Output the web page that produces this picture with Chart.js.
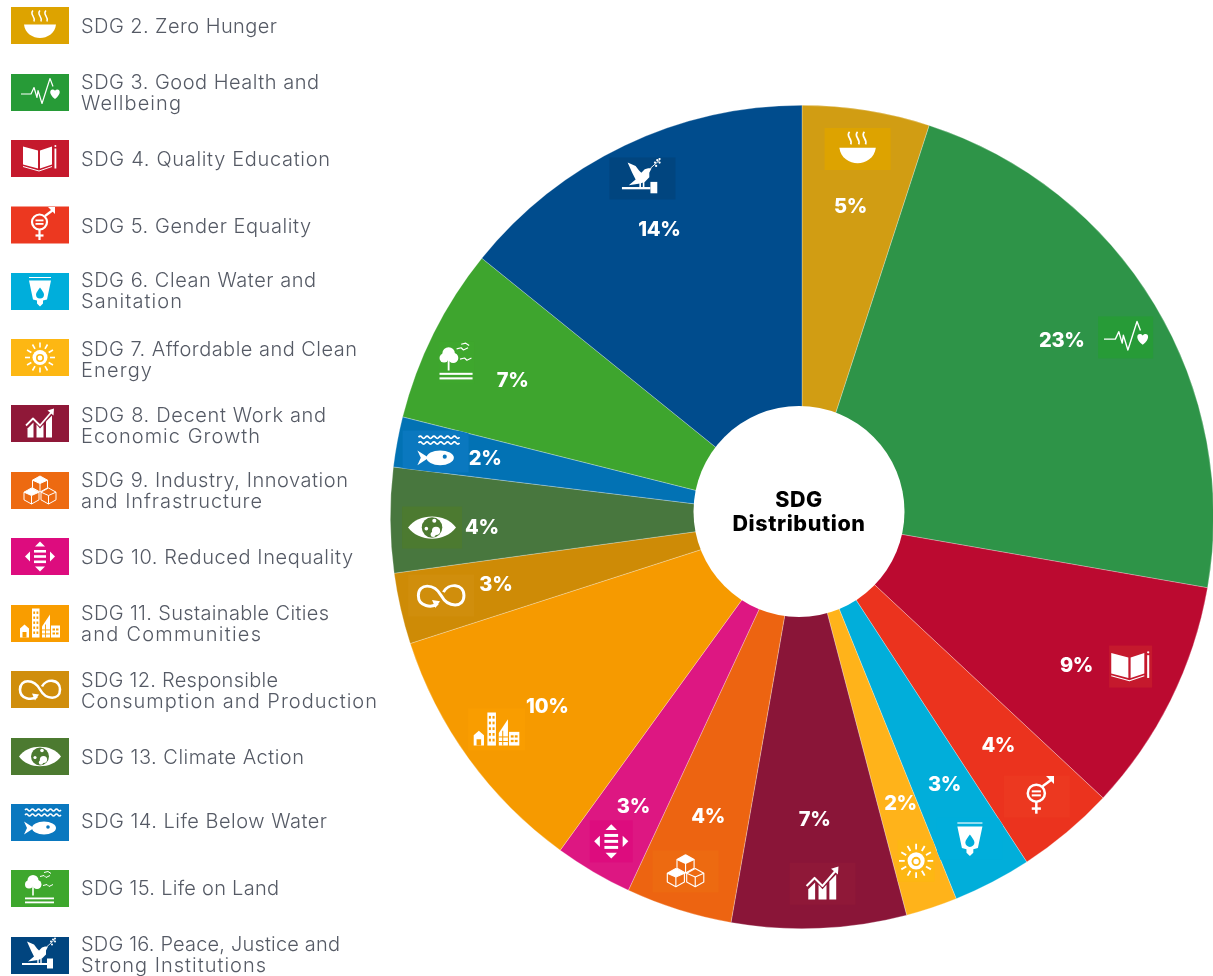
<!DOCTYPE html>
<html>
<head>
<meta charset="utf-8">
<title>SDG Distribution</title>
<script src="https://cdn.jsdelivr.net/npm/chart.js@4"></script>
<style>
  html, body { margin: 0; padding: 0; background: #fff; overflow: hidden; }
  canvas { display: block; }
</style>
</head>
<body>
<canvas id="sdgChart" width="1214" height="976"></canvas>
<script>
// data
const legendLines = [
    ['SDG 2. Zero Hunger'],
    ['SDG 3. Good Health and', 'Wellbeing'],
    ['SDG 4. Quality Education'],
    ['SDG 5. Gender Equality'],
    ['SDG 6. Clean Water and', 'Sanitation'],
    ['SDG 7. Affordable and Clean', 'Energy'],
    ['SDG 8. Decent Work and', 'Economic Growth'],
    ['SDG 9. Industry, Innovation', 'and Infrastructure'],
    ['SDG 10. Reduced Inequality'],
    ['SDG 11. Sustainable Cities', 'and Communities'],
    ['SDG 12. Responsible', 'Consumption and Production'],
    ['SDG 13. Climate Action'],
    ['SDG 14. Life Below Water'],
    ['SDG 15. Life on Land'],
    ['SDG 16. Peace, Justice and', 'Strong Institutions']
];
const shares = [5, 22.75, 9.2, 3.86, 3.08, 2.02, 6.85, 4.17, 3.06, 10.04, 2.79, 4.12, 1.97, 6.91, 14.18];
const sliceColors = ['#D19D13', '#2E9448', '#BB0A30', '#EB331E', '#01AEDA', '#FFB31A', '#8A1538', '#ED6411',
    '#DD1782', '#F69A00', '#CE8B06', '#48773E', '#0272B4', '#3EA52E', '#004C8D'];
const iconColors = ['#DDA300', '#279B37', '#C5192D', '#EC3820', '#00AEDB', '#FDB713', '#8F1838', '#ED6A11',
    '#DD0C7E', '#F99D00', '#D08E0C', '#4C7A30', '#0A78BF', '#3EA72D', '#01457F'];

// where label and icon sit in each slice: radius as part of the pie radius, nudge in degrees off the slice middle
const labelRadius = [.765, .763, .758, .731, .736, .734, .734, .761, .812, .770, .761, .778, .783, .778, .780];
const labelNudge = [-.15, -3.15, 1.94, -.67, -.5, -.67, 0, 0, -.17, -.57, .59, -1.27, 0, -1.1, -.84];
const iconRadius = [.904, .899, .877, .887, .882, .880, .892, .906, .914, .904, .897, .899, .904, .919, .909];
const iconNudge = [-.41, 2.02, -1.99, 0, 0, 0, -.81, .75, 0, 1.13, .59, -1.2, -.4, -2.42, .29];
const iconPatchWidth = [66, 55, 43, 66, 66, 37, 66, 66, 43, 57, 66, 60, 66, 35, 66];

// legend rows: icon middle, text middle, right end of each text line
const legendIconY = [25.5, 92.5, 158.5, 225, 291.5, 357.5, 423.5, 490.5, 556.5, 623.5, 689.5, 756.5, 822.5, 888.5, 955.5];
const legendTextY = [26, 92.5, 159, 226, 290.5, 359.5, 425, 490.5, 557, 623.5, 690.5, 757, 821, 888, 954.5];
const legendEnds = [[277], [319, 181], [330], [311], [316, 182], [357, 152], [326, 260], [348, 262], [353], [329, 261],
    [278, 377], [304], [327], [279], [340, 266]];

// small white glyphs, drawn around 0,0 in a 58x37 box
function poly(c, pts, fill) {
    c.beginPath();
    pts.forEach(function(p, i) { i ? c.lineTo(p[0], p[1]) : c.moveTo(p[0], p[1]); });
    if (fill) { c.closePath(); c.fill(); } else { c.stroke(); }
}
function dot(c, x, y, r) {
    c.beginPath();
    c.arc(x, y, r, 0, Math.PI * 2);
    c.fill();
}
const glyphs = [
    function bowl(c) {
        c.beginPath();
        c.moveTo(-16, -1); c.lineTo(16, -1);
        c.bezierCurveTo(15, 8, 7, 12.5, 0, 12.5);
        c.bezierCurveTo(-7, 12.5, -15, 8, -16, -1);
        c.fill();
        c.lineWidth = 1.5;
        [-7, 0, 6].forEach(function(x) {
            c.beginPath();
            c.moveTo(x, -15);
            c.bezierCurveTo(x - 4, -11, x + 3, -9, x + 1, -4);
            c.stroke();
        });
    },
    function pulse(c) {
        c.lineWidth = 1.2;
        poly(c, [[-19, 1.5], [-9, 1.5], [-6, -5], [-3, 5], [-2, -2], [2, 11], [10, -14], [13, -6]]);
        c.beginPath();
        c.moveTo(15, 6.5);
        c.bezierCurveTo(8, 1, 10, -3.5, 13, -3);
        c.bezierCurveTo(14, -3, 15, -2, 15, -1.5);
        c.bezierCurveTo(15, -2, 16, -3, 17, -3);
        c.bezierCurveTo(20, -3.5, 22, 1, 15, 6.5);
        c.fill();
    },
    function book(c, bg) {
        poly(c, [[-17, -12], [-2, -8], [-2, 10], [-17, 6]], true);
        poly(c, [[12, -12], [0, -8], [0, 10], [12, 6]], true);
        c.lineWidth = 1;
        poly(c, [[-17, 8], [-1, 12.5], [12, 8]]);
        c.fillRect(14.5, -10, 1.8, 20);
        dot(c, 15.4, -12.5, 1);
    },
    function gender(c) {
        c.lineWidth = 2.2;
        c.beginPath();
        c.arc(-.5, -3, 7.5, 0, Math.PI * 2);
        c.stroke();
        c.fillRect(-4.5, -5.5, 8, 1.8);
        c.fillRect(-4.5, -2, 8, 1.8);
        poly(c, [[-.5, 4], [-.5, 15]]);
        poly(c, [[-4.5, 10.5], [3.5, 10.5]]);
        poly(c, [[5, -9], [13, -15]]);
        poly(c, [[15, -18], [15, -11], [8, -18]], true);
    },
    function water(c, bg) {
        poly(c, [[-11, -11], [11, -11], [7, 8], [3, 9], [3, 12], [0, 15], [-3, 12], [-3, 9], [-7, 8]], true);
        c.lineWidth = 1;
        poly(c, [[-11, -14], [11, -14]]);
        c.fillStyle = bg;
        c.beginPath();
        c.moveTo(0, -4);
        c.bezierCurveTo(2, -1, 4, 1, 4, 3);
        c.arc(0, 3, 4, 0, Math.PI);
        c.bezierCurveTo(-4, 1, -2, -1, 0, -4);
        c.fill();
    },
    function sun(c, bg) {
        dot(c, 0, 0, 7.5);
        c.fillStyle = bg;
        dot(c, 0, .5, 4);
        c.fillStyle = '#fff';
        dot(c, 0, .5, 2.4);
        c.lineWidth = 1.6;
        for (let i = 0; i < 12; i++) {
            const a = i * Math.PI / 6;
            poly(c, [[Math.cos(a) * 10, Math.sin(a) * 10], [Math.cos(a) * 15, Math.sin(a) * 15]]);
        }
    },
    function growth(c) {
        poly(c, [[-12.5, 5], [-6.5, -1], [-6.5, 14], [-12.5, 14]], true);
        poly(c, [[-3.5, 1], [0, 5], [3.5, 1], [3.5, 14], [-3.5, 14]], true);
        poly(c, [[6, -2], [12, -8], [12, 14], [6, 14]], true);
        c.lineWidth = 1.8;
        poly(c, [[-14, 2], [-7, -5], [0, 2], [12, -12]]);
        poly(c, [[14, -15], [13.5, -8], [7.5, -13]], true);
    },
    function cubes(c) {
        function cube(x, y, s, filled) {
            const h = s * .58;
            c.globalAlpha = filled ? 1 : 0;
            poly(c, [[x, y - s], [x + s, y - h + 1], [x, y], [x - s, y - h + 1]], true);
            c.globalAlpha = 1;
            c.lineWidth = 1;
            poly(c, [[x, y - s], [x + s, y - h + 1], [x + s, y + h], [x, y + s + 1], [x - s, y + h], [x - s, y - h + 1], [x, y - s]]);
            poly(c, [[x - s, y - h + 1], [x, y], [x + s, y - h + 1]]);
            poly(c, [[x, y], [x, y + s + 1]]);
        }
        cube(0, -7, 7.5, true);
        cube(-8.5, 5, 7.5, true);
        cube(8.5, 5, 7.5, false);
    },
    function inequality(c) {
        poly(c, [[0, -15], [5, -10], [-5, -10]], true);
        poly(c, [[0, 15], [5, 10], [-5, 10]], true);
        poly(c, [[-15, 0], [-10, -5], [-10, 5]], true);
        poly(c, [[15, 0], [10, -5], [10, 5]], true);
        c.fillRect(-6, -6.5, 12, 2.6);
        c.fillRect(-6, -1.3, 12, 2.6);
        c.fillRect(-6, 4, 12, 2.6);
    },
    function city(c, bg) {
        poly(c, [[-20, 5], [-15.5, 1], [-11, 5], [-11, 14], [-20, 14]], true);
        c.fillRect(-8, -15, 7.5, 29);
        poly(c, [[2, 14], [2, 3], [10, -9], [10, 14]], true);
        c.fillRect(11, 2, 9, 12);
        c.fillStyle = bg;
        c.fillRect(-17.5, 8.5, 4, 5.5);
        for (let y = -12; y < 12; y += 5) {
            c.fillRect(-6.7, y, 1.8, 2.4);
            c.fillRect(-3.5, y, 1.8, 2.4);
        }
        c.fillRect(12.5, 5, 2.5, 2);
        c.fillRect(16, 5, 2.5, 2);
        c.fillRect(12.5, 9, 2.5, 2);
        c.fillRect(16, 9, 2.5, 2);
        c.fillRect(5, 1, .9, 13);
        c.fillRect(2, 6, 8, .9);
        c.fillRect(2, 10, 8, .9);
    },
    function infinity(c) {
        c.lineWidth = 2.6;
        c.beginPath();
        c.moveTo(-3, 7);
        c.bezierCurveTo(-8, 11, -20, 10, -20, 0);
        c.bezierCurveTo(-20, -11, -6, -11, 0, 0);
        c.bezierCurveTo(6, 11, 20, 11, 20, 0);
        c.bezierCurveTo(20, -11, 6, -11, 2, -3);
        c.stroke();
        poly(c, [[-8, 4], [-1, 5], [-5, 11]], true);
    },
    function eye(c, bg) {
        c.beginPath();
        c.moveTo(-21, 0);
        c.bezierCurveTo(-12, -13, 12, -13, 21, 0);
        c.bezierCurveTo(12, 13, -12, 13, -21, 0);
        c.fill();
        c.fillStyle = bg;
        dot(c, 0, 0, 9);
        c.fillStyle = '#fff';
        dot(c, 3.5, 3, 3.6);
        dot(c, 1, 6, 2.2);
        dot(c, 2, -6, 1.8);
        dot(c, -5, 1, 1.6);
    },
    function fish(c, bg) {
        c.beginPath();
        c.ellipse(4, 5.5, 12, 6.5, 0, 0, Math.PI * 2);
        c.fill();
        poly(c, [[-16, -1], [-6, 5.5], [-16, 12], [-13, 5.5]], true);
        c.lineWidth = 1.4;
        [-12.5, -7.5].forEach(function(y) {
            c.beginPath();
            c.moveTo(-15, y);
            for (let x = -15; x < 17; x += 6) {
                c.quadraticCurveTo(x + 1.5, y - 2, x + 3, y);
                c.quadraticCurveTo(x + 4.5, y + 2, x + 6, y);
            }
            c.stroke();
        });
        c.fillStyle = bg;
        dot(c, 8, 4.5, 1.8);
    },
    function tree(c) {
        dot(c, -7, -8, 5.5);
        dot(c, -11, -4, 4);
        dot(c, -3, -4, 4.5);
        c.fillRect(-7.8, -4, 1.6, 11);
        c.fillRect(-15, 9, 29, 1.8);
        c.fillRect(-15, 13, 29, 1.8);
        c.lineWidth = 1;
        poly(c, [[0, -12], [4, -13], [6, -11], [10, -13]]);
        poly(c, [[4, -16], [8, -17], [11, -15]]);
        poly(c, [[3, -3], [7, -4], [9, -2], [13, -4]]);
    },
    function dove(c) {
        poly(c, [[-13, -14], [-6, -11], [-3, -7], [-1, -5], [2, -8], [5, -9], [8, -9], [6, -5], [6, -1], [2, 3],
            [-2, 4.5], [-12, 6], [-6, 1], [-9, -5]], true);
        c.lineWidth = 1.4;
        poly(c, [[-2, 3], [-2, 8]]);
        poly(c, [[1, 3], [1, 8]]);
        c.fillRect(-18, 7.5, 25, 2);
        c.fillRect(7, 3, 6, 10);
        c.lineWidth = .8;
        poly(c, [[7, -9], [15, -16]]);
        dot(c, 11, -14, 1);
        dot(c, 13, -16, 1);
        dot(c, 15, -17, 1);
        dot(c, 12, -11, 1);
        dot(c, 15, -14, 1);
    }
];

function drawGlyph(c, i, cx, cy, bg, scale) {
    c.save();
    c.translate(cx, cy);
    c.scale(scale, scale);
    c.fillStyle = '#fff';
    c.strokeStyle = '#fff';
    c.lineJoin = 'round';
    glyphs[i](c, bg);
    c.restore();
}

const textFont = 'Inter, "Open Sans", sans-serif';

// hole, slice labels and the left legend
const sdgDecor = {
    id: 'sdgDecor',
    afterDatasetsDraw(chart) {
        const c = chart.ctx;
        const arcs = chart.getDatasetMeta(0).data;
        const cx = arcs[0].x, cy = arcs[0].y, R = arcs[0].outerRadius;

        c.save();
        c.fillStyle = '#fff';
        c.beginPath();
        c.arc(cx - 3, cy - 5.5, 105.5, 0, Math.PI * 2);
        c.fill();

        c.textAlign = 'center';
        c.textBaseline = 'middle';
        c.fillStyle = '#000';
        c.font = '800 21.5px ' + textFont;
        c.letterSpacing = '0.6px';
        c.fillText('SDG', cx - 3, cy - 16);
        c.fillText('Distribution', cx - 3, cy + 7.5);

        c.letterSpacing = '-0.3px';
        arcs.forEach(function(arc, i) {
            const mid = (arc.startAngle + arc.endAngle) / 2;
            const la = mid + labelNudge[i] * Math.PI / 180;
            const ia = mid + iconNudge[i] * Math.PI / 180;
            const ix = cx + Math.cos(ia) * iconRadius[i] * R;
            const iy = cy + Math.sin(ia) * iconRadius[i] * R;

            // icon patch stays inside its own slice
            c.save();
            c.beginPath();
            c.moveTo(cx, cy);
            c.arc(cx, cy, R, arc.startAngle, arc.endAngle);
            c.closePath();
            c.clip();
            c.fillStyle = iconColors[i];
            c.fillRect(ix - iconPatchWidth[i] / 2, iy - 21, iconPatchWidth[i], 42);
            c.restore();
            drawGlyph(c, i, ix, iy, iconColors[i], 1.14);

            c.fillStyle = '#fff';
            c.font = '800 20px ' + textFont;
            c.fillText(Math.round(shares[i]) + '%', cx + Math.cos(la) * labelRadius[i] * R, cy + 1 + Math.sin(la) * labelRadius[i] * R);
        });

        c.textAlign = 'left';
        c.font = '300 20px ' + textFont;
        legendLines.forEach(function(lines, i) {
            c.fillStyle = iconColors[i];
            c.fillRect(11, legendIconY[i] - 18.5, 58, 37);
            drawGlyph(c, i, 40, legendIconY[i], iconColors[i], 1);
            c.fillStyle = '#555A65';
            lines.forEach(function(line, k) {
                // stretch each line to the width it has in the picture
                c.letterSpacing = '0px';
                const spacing = (legendEnds[i][k] - 81 - c.measureText(line).width) / (line.length - 1);
                c.letterSpacing = spacing.toFixed(3) + 'px';
                c.fillText(line, 81, legendTextY[i] + 1 + (k - (lines.length - 1) / 2) * 21);
            });
        });
        c.restore();
    }
};

document.addEventListener('DOMContentLoaded', function() {
    new Chart(document.getElementById('sdgChart'), {
        type: 'pie',
        data: {
            labels: legendLines.map(function(l) { return l.join(' '); }),
            datasets: [{
                data: shares,
                backgroundColor: sliceColors,
                borderColor: 'rgba(255,255,255,0.45)',
                borderWidth: 0.6
            }]
        },
        options: {
            responsive: false,
            animation: false,
            layout: { padding: { left: 390, top: 105, right: 0, bottom: 47 } },
            plugins: {
                legend: { display: false },
                tooltip: { enabled: false }
            }
        },
        plugins: [sdgDecor]
    });
});
</script>
</body>
</html>
